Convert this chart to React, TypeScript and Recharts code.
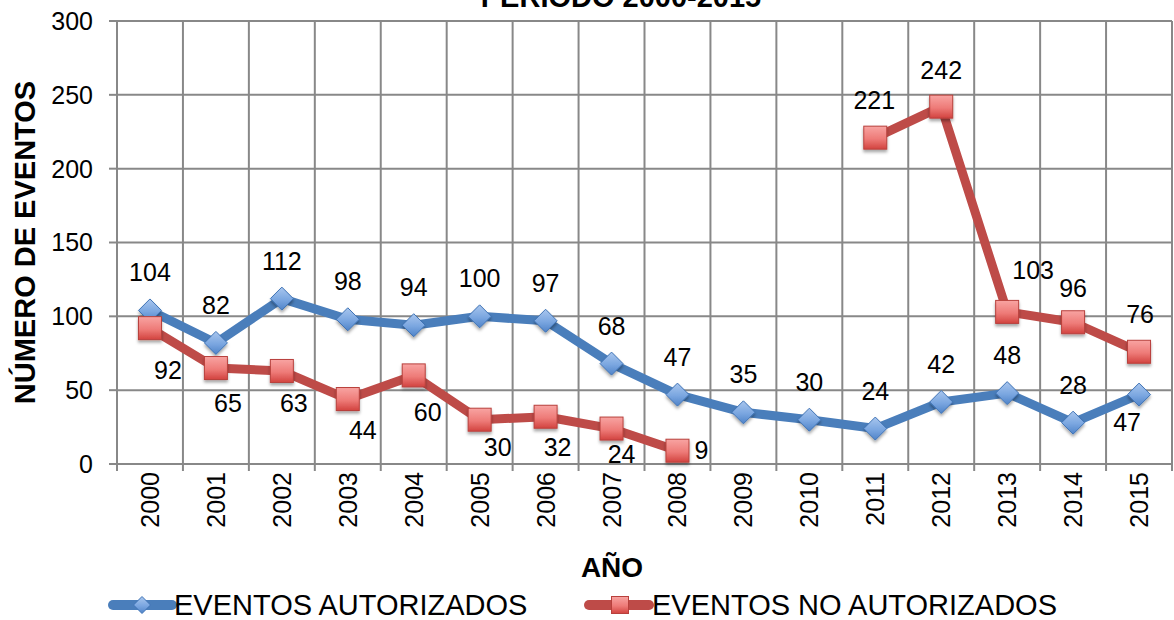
import React from 'react';
import {
  LineChart,
  Line,
  XAxis,
  YAxis,
  CartesianGrid,
  Legend,
  Customized,
} from 'recharts';

const YEARS = ['2000', '2001', '2002', '2003', '2004', '2005', '2006', '2007', '2008', '2009', '2010', '2011', '2012', '2013', '2014', '2015'];
const AUTORIZADOS = [104, 82, 112, 98, 94, 100, 97, 68, 47, 35, 30, 24, 42, 48, 28, 47];
const NO_AUTORIZADOS: (number | null)[] = [92, 65, 63, 44, 60, 30, 32, 24, 9, null, null, 221, 242, 103, 96, 76];
const Y_TICKS = [0, 50, 100, 150, 200, 250, 300];
const TITLE = 'PERIODO 2000-2015';
const X_TITLE = 'AÑO';
const Y_TITLE = 'NÚMERO DE EVENTOS';
const SERIES_A = 'EVENTOS AUTORIZADOS';
const SERIES_B = 'EVENTOS NO AUTORIZADOS';

// label offsets (dx, dy) relative to each marker
const BLUE_LABEL_OFFSETS: [number, number][] = [
  [0, -38], [0, -38], [0, -38], [0, -38], [0, -38], [0, -38], [0, -38], [0, -38],
  [0, -38], [0, -38], [0, -38], [0, -38], [0, -38], [0, -38], [0, -38], [-12, 27],
];
const RED_LABEL_OFFSETS: ([number, number] | null)[] = [
  [18, 42], [12, 35], [12, 32], [15, 31], [14, 37], [18, 27], [12, 30], [10, 25],
  [24, -1], null, null, [-1, -38], [0, -37], [26, -42], [0, -34], [1, -38],
];

const data = YEARS.map((year, i) => ({
  idx: i,
  year,
  aut: AUTORIZADOS[i],
  noAut: NO_AUTORIZADOS[i],
}));

const CENTER_TICKS = YEARS.map((_, i) => i);
const EDGE_TICKS = Array.from({ length: YEARS.length + 1 }, (_, i) => i - 0.5);

const FONT = '"Liberation Sans", Arial, sans-serif';
const BLUE = '#4A7EBB';
const RED = '#BE4B48';
const GRID = '#888888';

const Diamond = (props: any) => {
  const { cx, cy, index, value } = props;
  if (value == null || cx == null || cy == null) return <g key={`bd-${index}`} />;
  const r = 11.5;
  return (
    <polygon
      key={`bd-${index}`}
      points={`${cx},${cy - r} ${cx + r},${cy} ${cx},${cy + r} ${cx - r},${cy}`}
      fill="url(#blueGrad)"
      stroke="#3F73B5"
      strokeWidth={1}
      filter="url(#mkShadow)"
    />
  );
};

const Square = (props: any) => {
  const { cx, cy, index, value } = props;
  if (value == null || cx == null || cy == null) return <g key={`rs-${index}`} />;
  const h = 11.5;
  return (
    <rect
      key={`rs-${index}`}
      x={cx - h}
      y={cy - h}
      width={2 * h}
      height={2 * h}
      fill="url(#redGrad)"
      stroke="#B8403C"
      strokeWidth={1}
      filter="url(#mkShadow)"
    />
  );
};

const makeLabel = (offsets: ([number, number] | null)[], prefix: string) => (props: any) => {
  const { x, y, value, index } = props;
  const off = offsets[index];
  if (value == null || x == null || y == null || !off) return <g key={`${prefix}-${index}`} />;
  return (
    <text
      key={`${prefix}-${index}`}
      x={x + off[0]}
      y={y + off[1]}
      dy="0.36em"
      textAnchor="middle"
      fontFamily={FONT}
      fontSize={25}
      fill="#000"
    >
      {value}
    </text>
  );
};

const blueLabel = makeLabel(BLUE_LABEL_OFFSETS, 'bl');
const redLabel = makeLabel(RED_LABEL_OFFSETS, 'rl');

const YearTick = (props: any) => {
  const { x, y, payload } = props;
  return (
    <g transform={`translate(${x},${y})`}>
      <text
        transform="rotate(-90)"
        x={0}
        y={0}
        dy="0.36em"
        textAnchor="end"
        fontFamily={FONT}
        fontSize={25}
        fill="#000"
      >
        {YEARS[payload.value]}
      </text>
    </g>
  );
};

const YTitle = (props: any) => {
  const { viewBox } = props;
  const cy = viewBox ? viewBox.y + viewBox.height / 2 : 242;
  return (
    <text
      transform={`translate(25,${cy}) rotate(-90)`}
      x={0}
      y={0}
      dy="0.36em"
      textAnchor="middle"
      fontFamily={FONT}
      fontWeight="bold"
      fontSize={29}
      fill="#000"
    >
      {Y_TITLE}
    </text>
  );
};

const Titles = () => (
  <g>
    <text x={621} y={7} textAnchor="middle" fontFamily={FONT} fontWeight="bold" fontSize={29} fill="#000">
      {TITLE}
    </text>
    <text x={612} y={577} textAnchor="middle" fontFamily={FONT} fontWeight="bold" fontSize={28} fill="#000">
      {X_TITLE}
    </text>
  </g>
);

const LegendContent = () => (
  <svg width={1174} height={32} style={{ display: 'block', overflow: 'visible' }}>
    <line x1={113} y1={16} x2={172} y2={16} stroke={BLUE} strokeWidth={10} strokeLinecap="round" />
    <polygon points="142,7.5 150.5,16 142,24.5 133.5,16" fill="url(#blueGrad)" stroke="#3F73B5" strokeWidth={1} />
    <text x={174} y={16} dy="0.36em" fontFamily={FONT} fontSize={29} fill="#000">
      {SERIES_A}
    </text>
    <line x1={589} y1={16} x2={649} y2={16} stroke={RED} strokeWidth={10} strokeLinecap="round" />
    <rect x={611.5} y={7.5} width={17} height={17} fill="url(#redGrad)" stroke="#B8403C" strokeWidth={1} />
    <text x={652} y={16} dy="0.36em" fontFamily={FONT} fontSize={29} fill="#000">
      {SERIES_B}
    </text>
  </svg>
);

export default function App() {
  return (
    <div style={{ position: 'absolute', left: 0, top: 0, width: 1174, height: 620, background: '#fff' }}>
      <style>{`.recharts-surface{overflow:visible}`}</style>
      <svg width={0} height={0} style={{ position: 'absolute' }}>
        <defs>
          <linearGradient id="blueGrad" x1="0" y1="0" x2="0" y2="1">
            <stop offset="0%" stopColor="#A9C6EE" />
            <stop offset="55%" stopColor="#7AA6E0" />
            <stop offset="100%" stopColor="#4F83C8" />
          </linearGradient>
          <linearGradient id="redGrad" x1="0" y1="0" x2="0" y2="1">
            <stop offset="0%" stopColor="#F8A4A2" />
            <stop offset="55%" stopColor="#EE7B78" />
            <stop offset="100%" stopColor="#D2433F" />
          </linearGradient>
          <filter id="mkShadow" x="-50%" y="-50%" width="200%" height="200%">
            <feDropShadow dx="0" dy="2.5" stdDeviation="1.5" floodColor="#000" floodOpacity="0.35" />
          </filter>
        </defs>
      </svg>
      <LineChart
        width={1174}
        height={620}
        data={data}
        margin={{ top: 21, right: 2, bottom: 0, left: 0 }}
      >
        <CartesianGrid
          xAxisId="edge"
          yAxisId="y"
          stroke={GRID}
          strokeWidth={2}
          horizontal
          vertical
        />
        <XAxis
          xAxisId="edge"
          dataKey="idx"
          type="number"
          domain={[-0.5, YEARS.length - 0.5]}
          ticks={EDGE_TICKS}
          interval={0}
          tickFormatter={() => ''}
          tickSize={7}
          height={8}
          stroke={GRID}
          strokeWidth={2}
          tickLine={{ stroke: GRID, strokeWidth: 2 }}
          axisLine={{ stroke: GRID, strokeWidth: 2 }}
        />
        <XAxis
          xAxisId="main"
          dataKey="idx"
          type="number"
          domain={[-0.5, YEARS.length - 0.5]}
          ticks={CENTER_TICKS}
          interval={0}
          tick={<YearTick />}
          tickLine={false}
          axisLine={false}
          tickSize={0}
          tickMargin={0}
          height={148}
        />
        <YAxis
          yAxisId="y"
          type="number"
          domain={[0, 300]}
          ticks={Y_TICKS}
          interval={0}
          width={117}
          tickSize={8}
          tickMargin={16}
          tick={{ fontFamily: FONT, fontSize: 25, fill: '#000' }}
          tickLine={{ stroke: GRID, strokeWidth: 2 }}
          axisLine={{ stroke: GRID, strokeWidth: 2 }}
          label={<YTitle />}
        />
        <Line
          xAxisId="main"
          yAxisId="y"
          dataKey="aut"
          name={SERIES_A}
          stroke={BLUE}
          strokeWidth={9}
          strokeLinejoin="round"
          strokeLinecap="round"
          dot={Diamond}
          activeDot={false}
          label={blueLabel}
          isAnimationActive={false}
        />
        <Line
          xAxisId="main"
          yAxisId="y"
          dataKey="noAut"
          name={SERIES_B}
          stroke={RED}
          strokeWidth={9}
          strokeLinejoin="round"
          strokeLinecap="round"
          dot={Square}
          activeDot={false}
          label={redLabel}
          connectNulls={false}
          isAnimationActive={false}
        />
        <Customized component={Titles} />
        <Legend
          verticalAlign="middle"
          layout="horizontal"
          wrapperStyle={{ position: 'absolute', left: 0, top: 589, width: 1174, height: 32 }}
          content={<LegendContent />}
        />
      </LineChart>
    </div>
  );
}
